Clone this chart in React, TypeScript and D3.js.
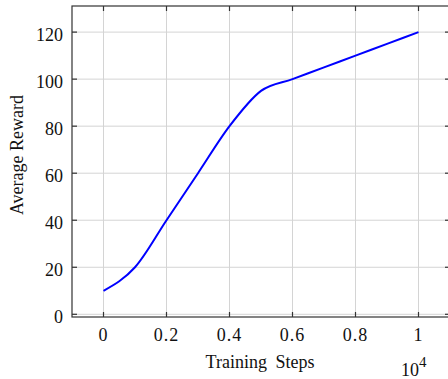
import * as d3 from 'd3';
import React, { useEffect, useRef } from 'react';

// training curve (steps in units of 10^4)
const steps = [0, 0.1, 0.2, 0.3, 0.4, 0.5, 0.6, 0.7, 0.8, 0.9, 1];
const rewards = [10, 20, 40, 60, 80, 95, 100, 105, 110, 115, 120];
const xTicks = [0, 0.2, 0.4, 0.6, 0.8, 1];
const yTicks = [0, 20, 40, 60, 80, 100, 120];

const W = 448, H = 379;
const margin = { top: 6, right: -2, bottom: 62, left: 72 };

const App = () => {
  const svgRef = useRef(null);

  useEffect(() => {
    const svg = d3.select(svgRef.current);
    svg.selectAll('*').remove();

    const x = d3.scaleLinear().domain([-0.1, 1.1]).range([margin.left, W - margin.right]);
    const y = d3.scaleLinear().domain([-1.15, 131.1]).range([H - margin.bottom, margin.top]);
    const [x0, x1] = x.range();
    const [yB, yT] = y.range();

    const grid = svg.append('g').attr('stroke', '#d4d4d4').attr('stroke-width', 1);
    grid.selectAll('.gx').data(xTicks).join('line')
      .attr('x1', d => x(d)).attr('x2', d => x(d)).attr('y1', yT).attr('y2', yB);
    grid.selectAll('.gy').data(yTicks).join('line')
      .attr('x1', x0).attr('x2', x1).attr('y1', d => y(d)).attr('y2', d => y(d));

    // box
    svg.append('rect').attr('x', x0).attr('y', yT).attr('width', x1 - x0).attr('height', yB - yT)
      .attr('fill', 'none').attr('stroke', '#333').attr('stroke-width', 1.2);

    // inward ticks on all sides
    const tk = svg.append('g').attr('stroke', '#333').attr('stroke-width', 1.2);
    tk.selectAll('.tb').data(xTicks).join('line')
      .attr('x1', d => x(d)).attr('x2', d => x(d)).attr('y1', yB).attr('y2', yB - 5);
    tk.selectAll('.tt').data(xTicks).join('line')
      .attr('x1', d => x(d)).attr('x2', d => x(d)).attr('y1', yT).attr('y2', yT + 5);
    tk.selectAll('.tl').data(yTicks).join('line')
      .attr('x1', x0).attr('x2', x0 + 5).attr('y1', d => y(d)).attr('y2', d => y(d));
    tk.selectAll('.tr').data(yTicks).join('line')
      .attr('x1', x1).attr('x2', x1 - 5).attr('y1', d => y(d)).attr('y2', d => y(d));

    const font = '"Liberation Serif", "Times New Roman", serif';

    svg.append('g').selectAll('text').data(xTicks).join('text')
      .attr('x', d => x(d)).attr('y', 341)
      .attr('text-anchor', 'middle').attr('font-family', font).attr('font-size', 18)
      .attr('letter-spacing', 1).attr('fill', '#111')
      .text(d => String(d));

    svg.append('g').selectAll('text').data(yTicks).join('text')
      .attr('x', 63).attr('y', d => y(d) + 9)
      .attr('text-anchor', 'end').attr('font-family', font).attr('font-size', 18)
      .attr('fill', '#111')
      .text(d => String(d));

    const line = d3.line<number>()
      .x((d, i) => x(steps[i]))
      .y(d => y(d))
      .curve(d3.curveMonotoneX);

    svg.append('path').datum(rewards)
      .attr('d', line)
      .attr('fill', 'none').attr('stroke', '#0000ff').attr('stroke-width', 2);

    svg.append('text')
      .attr('x', 260).attr('y', 368)
      .attr('text-anchor', 'middle').attr('font-family', font).attr('font-size', 18)
      .attr('word-spacing', 4).attr('fill', '#111')
      .text('Training Steps');

    svg.append('text')
      .attr('transform', 'translate(23,155) rotate(-90)')
      .attr('text-anchor', 'middle').attr('font-family', font).attr('font-size', 18)
      .attr('fill', '#111')
      .text('Average Reward');

    const exp = svg.append('text').attr('x', 401).attr('y', 376)
      .attr('font-family', font).attr('font-size', 18).attr('fill', '#111');
    exp.append('tspan').text('10');
    exp.append('tspan').attr('dy', -9).attr('font-size', 15).text('4');
  }, []);

  return (
    <svg ref={svgRef} width={W} height={H}
      style={{ position: 'absolute', left: 0, top: 0, background: '#fff' }} />
  );
};

export default App;
